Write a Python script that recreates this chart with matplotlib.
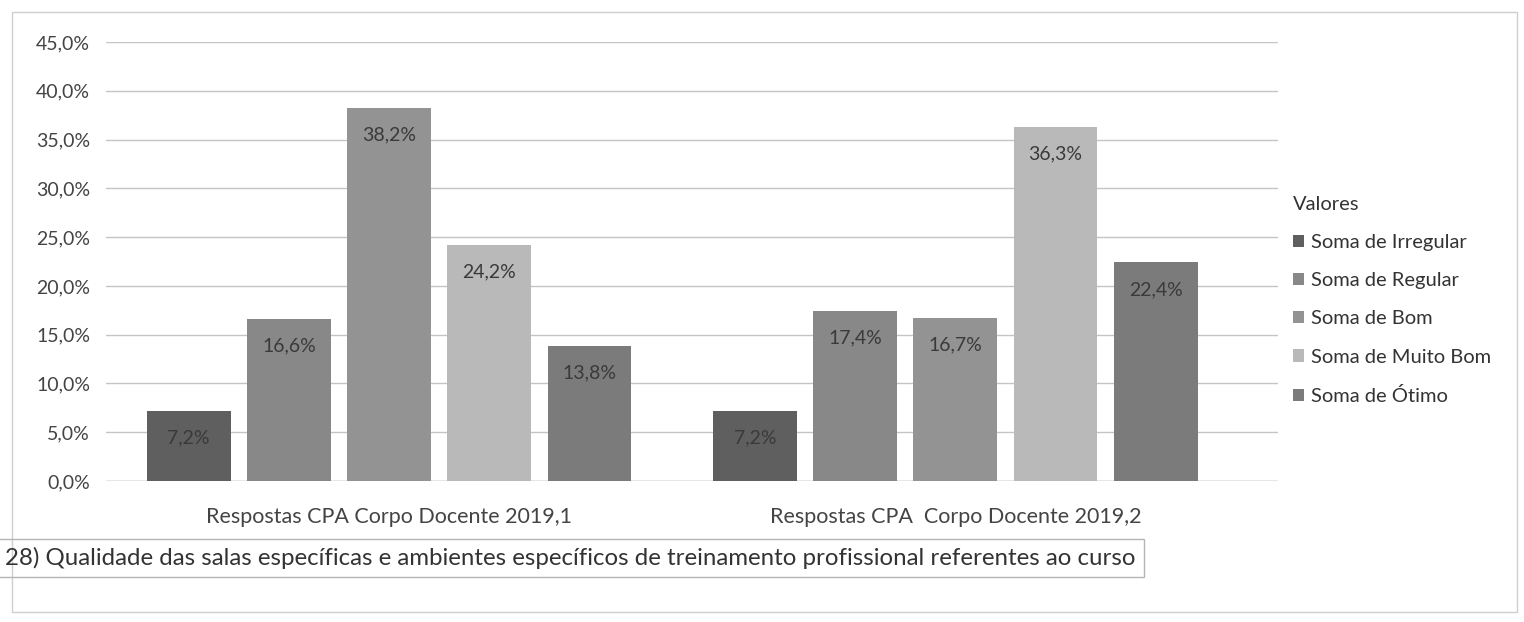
import numpy as np
import matplotlib.pyplot as plt
from matplotlib.patches import Rectangle
from matplotlib.ticker import FuncFormatter

plt.rcParams['font.family'] = ['Lato', 'DejaVu Sans']

grupos = ['Respostas CPA Corpo Docente 2019,1', 'Respostas CPA  Corpo Docente 2019,2']
series = ['Soma de Irregular', 'Soma de Regular', 'Soma de Bom', 'Soma de Muito Bom', 'Soma de Ótimo']
irregular = [7.2, 7.2]
regular = [16.6, 17.4]
bom = [38.2, 16.7]
muito_bom = [24.2, 36.3]
otimo = [13.8, 22.4]
valores = [irregular, regular, bom, muito_bom, otimo]
cores = ['#5f5f5f', '#888888', '#939393', '#b9b9b9', '#7b7b7b']


def pct(v):
    return f'{v:.1f}%'.replace('.', ',')


fig = plt.figure(figsize=(15.24, 6.22), dpi=100)
ax = fig.add_axes([106 / 1524, 1 - 481 / 622, 1172 / 1524, 439 / 622])

x = np.arange(len(grupos))
passo = 0.177
largura = 0.148
for i, (nome, vals, cor) in enumerate(zip(series, valores, cores)):
    pos = x + (i - 2) * passo
    barras = ax.bar(pos, vals, largura, color=cor, label=nome, zorder=2)
    for b, v in zip(barras, vals):
        ax.annotate(pct(v), (b.get_x() + b.get_width() / 2, v),
                    xytext=(0, -27), textcoords='offset pixels',
                    ha='center', va='center', fontsize=14, color='#3a3a3a')

ax.set_xlim(-0.5, 1.57)
ax.set_ylim(0, 45)
ax.set_yticks(np.arange(0, 46, 5))
ax.yaxis.set_major_formatter(FuncFormatter(lambda v, _: pct(v)))
ax.set_xticks(x)
ax.set_xticklabels(grupos, fontsize=15.5)
ax.tick_params(axis='both', length=0, colors='#444444')
ax.tick_params(axis='y', pad=11.5, labelsize=14)
ax.tick_params(axis='x', pad=19)
ax.grid(axis='y', color='#c4c4c4', linewidth=1, zorder=0)
for s in ax.spines.values():
    s.set_visible(False)
ax.axhline(0, color='#b0b0b0', linewidth=1, zorder=1)

leg = fig.legend(loc='upper left', bbox_to_anchor=(1285 / 1524, 1 - 188 / 622),
                 title='Valores', frameon=False, fontsize=14.5, title_fontsize=14.5,
                 handlelength=0.55, handleheight=0.55, handletextpad=0.35,
                 labelspacing=1.05, borderaxespad=0)
leg._legend_box.align = 'left'
for t in leg.get_texts():
    t.set_color('#333333')
leg.get_title().set_color('#333333')

# caixa com o enunciado da pergunta
fig.text(5 / 1524, 1 - 558 / 622,
         '28) Qualidade das salas específicas e ambientes específicos de treinamento profissional referentes ao curso',
         fontsize=17.3, color='#333333', va='center', ha='left',
         bbox=dict(boxstyle='square,pad=0.35', facecolor='none', edgecolor='#b5b5b5', linewidth=1))

fig.patches.append(Rectangle((12 / 1524, 10 / 622), 1505 / 1524, 600 / 622,
                             transform=fig.transFigure, fill=False,
                             edgecolor='#cfcfcf', linewidth=1))

fig.savefig('out.png', dpi=100, facecolor='white')
